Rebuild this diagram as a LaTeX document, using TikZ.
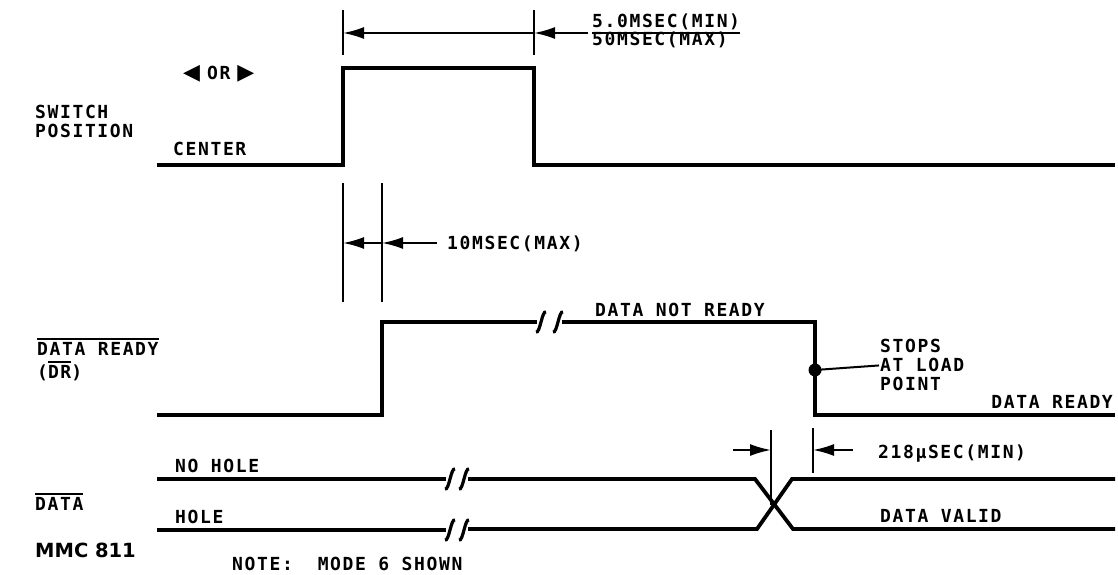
\documentclass[tikz,border=0pt]{standalone}
\usepackage{fontspec}
\usetikzlibrary{arrows.meta}
\newfontfamily\lblf{DejaVu Sans Mono}[LetterSpace=9]
\newfontfamily\symf{DejaVu Sans}
\newfontfamily\mmcf{DejaVu Sans}
\newcommand\ovl[1]{\vbox{\hrule height 1.8pt\kern 1.6pt\hbox{#1}}}
\newcommand\brkmark[2]{\draw[brk] (#1-5,#2+10) .. controls (#1-1,#2+12) and (#1+1,#2-12) .. (#1+5,#2-10);}
\tikzset{
  sig/.style={line width=3.8pt, line join=miter},
  dimln/.style={line width=2pt},
  arr/.style={dimln, -{Latex[length=21pt,width=12pt]}},
  brk/.style={line width=3.2pt},
  txt/.style={inner sep=0pt, anchor=base west, font=\lblf\bfseries\fontsize{18}{18}\selectfont},
}
\begin{document}
\begin{tikzpicture}[x=1pt,y=-1pt]
\fill[white] (0,0) rectangle (1118,575);
\useasboundingbox (0,0) rectangle (1118,575);

% ---------- SWITCH POSITION ----------
\node[txt] (orlbl) at (183,80) {{\symf\fontsize{22}{22}\selectfont ◀}\hspace{7pt}OR\hspace{7pt}{\symf\fontsize{22}{22}\selectfont ▶}};
\node[txt] (sw1) at (35,118) {SWITCH};
\node[txt] (sw2) at (35,138) {POSITION};
\node[txt] (center) at (173,155) {CENTER};
\draw[sig] (157,165) -- (343,165) -- (343,68) -- (534,68) -- (534,165) -- (1115,165);

% top dimension
\coordinate (t1a) at (343,10); \coordinate (t1b) at (343,55);
\coordinate (t2a) at (534,10); \coordinate (t2b) at (534,55);
\draw[dimln] (t1a) -- (t1b);
\draw[dimln] (t2a) -- (t2b);
\coordinate (tl) at (343,33); \coordinate (tr) at (534,33); \coordinate (tfar) at (588,33);
\draw[arr] (tr) -- (tl);
\draw[arr] (tfar) -- (tr);
\node[txt] (minlbl) at (592,28) {5.0MSEC(MIN)};
\node[txt] (maxlbl) at (592,46) {50MSEC(MAX)};
\draw[dimln] ([yshift=-5pt]minlbl.base west) -- ([yshift=-5pt]minlbl.base east);

% 10 ms dimension
\coordinate (m1a) at (343,183); \coordinate (m1b) at (343,302);
\coordinate (m2a) at (382,183); \coordinate (m2b) at (382,302);
\draw[dimln] (m1a) -- (m1b);
\draw[dimln] (m2a) -- (m2b);
\coordinate (ml) at (343,243); \coordinate (mr) at (382,243); \coordinate (mfar) at (437,243);
\draw[arr] (mr) -- (ml);
\draw[arr] (mfar) -- (mr);
\node[txt] (tenms) at (447,249) {10MSEC(MAX)};

% ---------- DATA READY ----------
\node[txt] (dr1) at (37,355) {\ovl{DATA READY}};
\node[txt] (dr2) at (37,378) {(\ovl{DR})};
\node[txt] (dnr) at (595,316) {DATA NOT READY};
\draw[sig] (157,415) -- (382,415) -- (382,322) -- (537,322);
\brkmark{541}{322}
\brkmark{558}{322}
\draw[sig] (562,322) -- (815,322) -- (815,415) -- (1115,415);
\node[circle, fill, inner sep=0pt, minimum size=13pt] (stopdot) at (815,370) {};
\node[txt] (stops) at (880,352) {STOPS};
\node[txt] (atload) at (880,371) {AT LOAD};
\node[txt] (point) at (880,390) {POINT};
\draw[dimln] (stopdot.center) -- ([xshift=-1pt,yshift=-1pt]atload.west);
\node[txt, anchor=base east] (drready) at (1113,408) {DATA READY};

% ---------- DATA ----------
\node[txt] (datal) at (35,510) {\ovl{DATA}};
\node[txt] (nohole) at (175,472) {NO HOLE};
\node[txt] (hole) at (175,523) {HOLE};
\node[txt] (valid) at (880,522) {DATA VALID};
\draw[sig] (157,479) -- (446,479);
\brkmark{450}{479}
\brkmark{464}{479}
\draw[sig] (468,479) -- (755,479) -- (793,529) -- (1115,529);
\draw[sig] (157,530) -- (446,530);
\brkmark{450}{530}
\brkmark{464}{530}
\draw[sig] (468,529) -- (757,529) -- (792,479) -- (1115,479);

% 218 us dimension
\coordinate (d1a) at (771,430); \coordinate (d1b) at (771,505);
\coordinate (d2a) at (813,428); \coordinate (d2b) at (813,473);
\draw[dimln] (d1a) -- (d1b);
\draw[dimln] (d2a) -- (d2b);
\coordinate (dl) at (733,450); \coordinate (dlt) at (771,450);
\coordinate (dr) at (853,450); \coordinate (drt) at (813,450);
\draw[arr] (dl) -- (dlt);
\draw[arr] (dr) -- (drt);
\node[txt] (usl) at (878,458) {218μSEC(MIN)};

% ---------- footer ----------
\node[inner sep=0pt, anchor=base west, font=\mmcf\bfseries\fontsize{19.5}{19.5}\selectfont] (mmc) at (35,557) {MMC 811};
\node[txt] (note) at (232,570) {NOTE:\ \ MODE 6 SHOWN};
\end{tikzpicture}
\end{document}
